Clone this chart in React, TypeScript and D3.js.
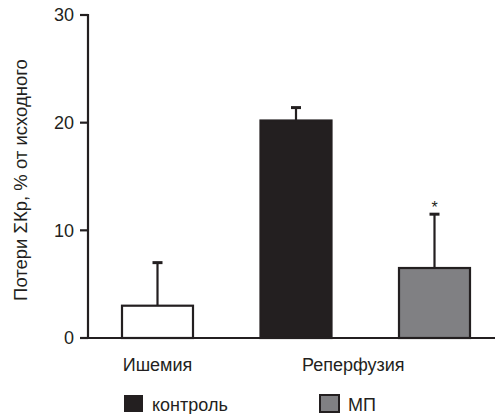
import React from "react";
import * as d3 from "d3";

const slots = ["isch", "rep-ctrl", "rep-mp"];
const slotGroup = ["Ишемия", "Реперфузия", "Реперфузия"];
const slotValues = [3.0, 20.2, 6.5];
const slotErrTop = [7.0, 21.4, 11.5];
const slotFill = ["#ffffff", "#231f20", "#808083"];
const slotStroke = ["#231f20", "#231f20", "#231f20"];
const slotMark = ["", "", "*"];
const groups = ["Ишемия", "Реперфузия"];
const yTicks = [0, 10, 20, 30];
const legendLabels = ["контроль", "МП"];
const legendFills = ["#231f20", "#808083"];
const yLabel = "Потери ΣКр, % от исходного";

const W = 495;
const H = 414;
const FONT = "'Liberation Sans', Arial, Helvetica, sans-serif";

export default function App() {
  const axisX = 88;
  const y = d3.scaleLinear().domain([0, 30]).range([338, 15]);
  const x = d3.scalePoint<string>().domain(slots).range([157.5, 434.5]);
  const barW = 71;

  const groupCenter = (g: string) => {
    const xs = slots.filter((_, i) => slotGroup[i] === g).map((s) => x(s)!);
    const c = d3.mean(xs)!;
    return xs.length > 1 ? c - 12 : c;
  };

  return (
    <svg
      width={W}
      height={H}
      style={{ position: "fixed", left: 0, top: 0, background: "#fff" }}
      fontFamily={FONT}
    >
      <rect width={W} height={H} fill="#fff" />
      {slots.map((s, i) => {
        const cx = x(s)!;
        const top = y(slotValues[i]);
        const et = y(slotErrTop[i]);
        return (
          <g key={s}>
            <line x1={cx} x2={cx} y1={top} y2={et} stroke="#231f20" strokeWidth={2.2} />
            <line x1={cx - 5} x2={cx + 5} y1={et} y2={et} stroke="#231f20" strokeWidth={3} />
            <rect
              x={cx - barW / 2}
              y={top}
              width={barW}
              height={y(0) - top}
              fill={slotFill[i]}
              stroke={slotStroke[i]}
              strokeWidth={2.2}
            />
            {slotMark[i] && (
              <text x={cx} y={et - 1} textAnchor="middle" fontSize={16} fill="#231f20">
                {slotMark[i]}
              </text>
            )}
          </g>
        );
      })}
      <line x1={axisX} x2={axisX} y1={y(30) - 1} y2={y(0) + 1} stroke="#231f20" strokeWidth={2.2} />
      <line x1={axisX} x2={W} y1={y(0)} y2={y(0)} stroke="#231f20" strokeWidth={2.2} />
      {yTicks.map((t) => (
        <g key={t}>
          <line x1={axisX - 8} x2={axisX} y1={y(t)} y2={y(t)} stroke="#231f20" strokeWidth={2.2} />
          <text
            x={axisX - 14}
            y={y(t)}
            dy="0.36em"
            textAnchor="end"
            fontSize={18}
            fill="#231f20"
          >
            {t}
          </text>
        </g>
      ))}
      {groups.map((g) => (
        <text
          key={g}
          x={groupCenter(g)}
          y={371}
          textAnchor="middle"
          fontSize={18}
          fill="#231f20"
        >
          {g}
        </text>
      ))}
      <text
        transform={`translate(27,${180}) rotate(-90)`}
        textAnchor="middle"
        fontSize={18.5}
        fill="#231f20"
      >
        {yLabel}
      </text>
      {legendLabels.map((l, i) => {
        const lx = i === 0 ? 124 : 320;
        return (
          <g key={l}>
            <rect
              x={lx}
              y={395}
              width={19}
              height={17}
              fill={legendFills[i]}
              stroke="#231f20"
              strokeWidth={i === 0 ? 0 : 2}
            />
            <text x={lx + 28} y={411} fontSize={18} fill="#231f20">
              {l}
            </text>
          </g>
        );
      })}
    </svg>
  );
}
